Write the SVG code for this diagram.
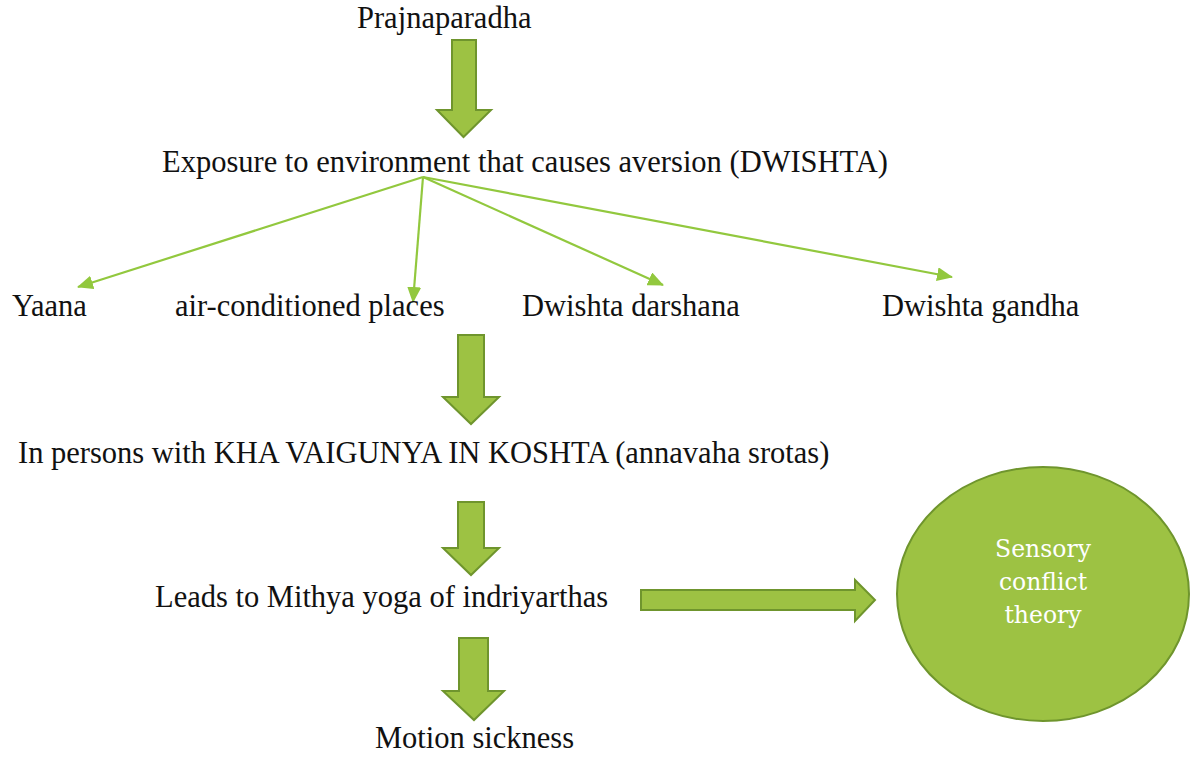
<svg xmlns="http://www.w3.org/2000/svg" width="1190" height="757" viewBox="0 0 1190 757">
  <defs>
    <style>
      text.t { font-family: 'Liberation Serif', 'Times New Roman', 'DejaVu Serif', serif; font-size: 30.5px; fill: #111111; }
      .blk { fill: #9dc243; stroke: #6f952d; stroke-width: 2; stroke-linejoin: miter; }
      .thin { stroke: #92c83e; stroke-width: 2.2; fill: none; marker-end: url(#ah); }
      text.ct { font-family: 'DejaVu Serif', 'Liberation Serif', serif; font-size: 23.5px; fill: #ffffff; text-anchor: middle; }
    </style>
    <marker id="ah" markerUnits="userSpaceOnUse" markerWidth="16" markerHeight="14" refX="15" refY="7" orient="auto">
      <path d="M0,0 L16,7 L0,14 Z" fill="#92c83e"/>
    </marker>
  </defs>
  <rect width="1190" height="757" fill="#ffffff"/>

  <g id="connectors">
    <path class="blk" d="M452,40 H476 V110 H491 L463.5,137 L437,110 H452 Z"/>
    <line class="thin" x1="423" y1="177" x2="78" y2="287"/>
    <line class="thin" x1="423" y1="177" x2="413" y2="302"/>
    <line class="thin" x1="423" y1="177" x2="663" y2="285"/>
    <line class="thin" x1="423" y1="177" x2="952" y2="277"/>
    <path class="blk" d="M458,335 H484 V397 H499 L471,424 L443,397 H458 Z"/>
    <path class="blk" d="M458,502 H484 V548 H499 L471,575 L443,548 H458 Z"/>
    <path class="blk" d="M459,638 H488 V691 H504 L474,720 L443,691 H459 Z"/>
    <path class="blk" d="M641,590 H855 V580 L875,600 L855,621 V610 H641 Z"/>
  </g>

  <g id="n-prajnaparadha"><text class="t" x="357" y="28">Prajnaparadha</text></g>
  <g id="n-exposure"><text class="t" x="162" y="172">Exposure to environment that causes aversion (DWISHTA)</text></g>
  <g id="n-yaana"><text class="t" x="12" y="316">Yaana</text></g>
  <g id="n-aircond"><text class="t" x="175" y="316">air-conditioned places</text></g>
  <g id="n-darshana"><text class="t" x="522" y="316">Dwishta darshana</text></g>
  <g id="n-gandha"><text class="t" x="882" y="316">Dwishta gandha</text></g>
  <g id="n-kha"><text class="t" x="18" y="463">In persons with KHA VAIGUNYA IN KOSHTA (annavaha srotas)</text></g>
  <g id="n-mithya"><text class="t" x="155" y="607">Leads to Mithya yoga of indriyarthas</text></g>
  <g id="n-motion"><text class="t" x="375" y="748">Motion sickness</text></g>
  <g id="n-sensory">
    <ellipse cx="1043" cy="594" rx="146" ry="127" fill="#9dc243" stroke="#6f952d" stroke-width="2"/>
    <text class="ct" x="1043" y="557">Sensory</text>
    <text class="ct" x="1043" y="590">conflict</text>
    <text class="ct" x="1043" y="623">theory</text>
  </g>
</svg>
